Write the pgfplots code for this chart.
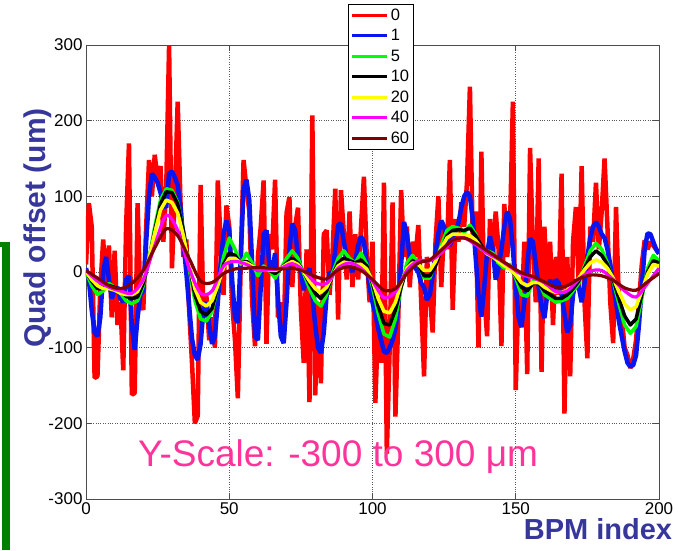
\documentclass[border=0pt]{standalone}
\usepackage{pgfplots}
\pgfplotsset{compat=1.18}
\usepackage{pgfplotstable}
\usepackage{fontspec}
\setmainfont{Liberation Sans}
\definecolor{cred}{RGB}{255,0,0}
\definecolor{cblue}{RGB}{10,20,240}
\definecolor{cgreen}{RGB}{0,255,0}
\definecolor{cyellow}{RGB}{255,255,0}
\definecolor{cmag}{RGB}{255,0,255}
\definecolor{cdark}{RGB}{128,0,0}
\definecolor{labblue}{RGB}{55,55,155}
\definecolor{pinkc}{RGB}{255,51,153}
\definecolor{barg}{RGB}{0,128,0}

\pgfplotstableread{
x r b
0 10 5
1 91 -10
2 60 -50
3 -140 -80
4 -138 -85
5 -20 -60
6 43 0
7 -20 20
8 35 -10
9 -60 -35
10 28 -25
11 -70 -20
12 -40 -35
13 -130 -40
14 60 -10
15 170 -5
16 -162 -70
17 -160 -103
18 91 -60
19 -40 -30
20 -50 -25
21 60 40
22 148 100
23 100 130
24 155 125
25 120 118
26 140 105
27 40 90
28 110 85
29 300 130
30 5 133
31 100 125
32 225 115
33 90 85
34 20 40
35 43 0
36 -50 -45
37 -120 -88
38 -200 -110
39 -190 -116
40 115 -95
41 -60 -50
42 -30 -40
43 -90 -70
44 -60 -95
45 -100 -85
46 121 -40
47 40 10
48 -30 50
49 88 68
50 60 55
51 -40 -10
52 -90 -60
53 -167 -67
54 10 20
55 148 110
56 110 122
57 80 95
58 -40 10
59 -98 -85
60 20 -90
61 60 -20
62 121 50
63 -95 55
64 50 10
65 30 0
66 122 25
67 -60 -35
68 -40 -85
69 -94 -94
70 78 -40
71 99 30
72 -20 64
73 60 55
74 85 20
75 -50 0
76 -120 -24
77 30 -5
78 -172 5
79 207 -30
80 -163 -70
81 -40 -100
82 -147 -107
83 50 -80
84 55 -30
85 -30 0
86 20 -5
87 110 30
88 -63 62
89 108 64
90 50 40
91 -10 20
92 80 10
93 -20 0
94 50 15
95 -10 35
96 60 47
97 126 40
98 20 10
99 -40 -20
100 40 -40
101 -173 -55
102 -60 -75
103 -120 -90
104 118 -105
105 -240 -107
106 -100 -100
107 92 -90
108 -191 -75
109 -60 -45
110 108 10
111 20 66
112 60 50
113 -20 20
114 40 10
115 20 5
116 62 0
117 -40 -15
118 -138 -20
119 20 -37
120 -30 -30
121 -80 -5
122 40 25
123 100 51
124 -20 68
125 60 60
126 30 40
127 148 35
128 -50 45
129 70 55
130 40 65
131 92 85
132 60 100
133 120 106
134 245 100
135 40 70
136 80 20
137 -100 -30
138 159 -59
139 -30 -20
140 -85 25
141 70 47
142 20 30
143 80 -10
144 30 5
145 -98 30
146 90 60
147 20 80
148 60 70
149 225 30
150 -156 -20
151 -20 -60
152 -60 -73
153 40 -40
154 -135 10
155 164 44
156 30 40
157 -40 10
158 150 -20
159 -132 -45
160 60 -61
161 -20 -30
162 40 -10
163 -70 -25
164 20 -10
165 -30 -15
166 130 -30
167 -187 -55
168 20 -80
169 -138 -70
170 40 -30
171 86 -10
172 -20 -20
173 140 -40
174 -40 -15
175 -114 20
176 60 45
177 40 60
178 118 66
179 30 60
180 80 50
181 150 45
182 60 30
183 -40 10
184 -94 -15
185 86 -40
186 -40 -65
187 -60 -85
188 -100 -105
189 -110 -120
190 -127 -125
191 -115 -123
192 -90 -110
193 -40 -70
194 10 -20
195 42 30
196 30 51
197 40 50
198 35 40
199 30 30
200 25 24
}\tabA

\pgfplotstableread{
x g k y
0 0 0 0
2 -18 -12 -10
4 -30 -22 -18
6 -25 -22 -22
8 -15 -18 -22
10 -20 -20 -24
12 -28 -25 -28
14 -38 -32 -30
16 -42 -35 -30
18 -38 -33 -26
20 -18 -15 -10
22 18 15 18
24 60 55 52
26 95 90 82
28 110 106 95
30 108 105 92
32 92 90 78
34 55 55 48
36 5 10 10
38 -38 -30 -22
40 -62 -52 -40
42 -65 -57 -45
44 -52 -48 -38
46 -20 -20 -18
48 20 10 6
50 45 25 18
52 30 22 18
54 10 12 12
56 25 14 12
58 12 8 8
60 -5 2 4
62 8 4 4
64 2 2 2
66 -8 -2 2
68 5 4 5
70 18 12 10
72 28 18 14
74 18 12 10
76 -2 0 0
78 -22 -15 -12
80 -38 -28 -22
82 -45 -35 -27
84 -30 -25 -20
86 -2 -5 -5
88 18 12 8
90 28 18 13
92 18 15 12
94 12 12 10
96 25 16 10
98 10 8 4
100 -20 -15 -12
102 -55 -45 -35
104 -82 -68 -52
106 -86 -70 -54
108 -62 -50 -40
110 -20 -20 -15
112 12 5 5
114 22 15 12
116 12 10 10
118 -8 -5 2
120 -8 -5 2
122 12 8 14
124 35 30 32
126 55 48 45
128 60 55 50
130 58 56 50
132 52 55 49
134 62 58 48
136 50 48 42
138 30 35 32
140 28 25 24
142 25 22 20
144 12 15 14
146 5 8 8
148 10 5 4
150 -8 -5 -4
152 -30 -20 -14
154 -32 -25 -18
156 -12 -15 -14
158 -12 -15 -14
160 -30 -25 -20
162 -35 -30 -24
164 -40 -35 -27
166 -38 -35 -27
168 -35 -30 -24
170 -25 -22 -16
172 -15 -12 -8
174 8 5 3
176 28 20 12
178 38 28 16
180 30 22 13
182 12 10 5
184 -12 -10 -8
186 -42 -35 -26
188 -70 -58 -42
190 -81 -70 -50
192 -72 -62 -46
194 -35 -30 -25
196 5 0 -3
198 22 15 10
200 15 12 8
}\tabB

\pgfplotstableread{
x m d
0 2 2
4 -12 -8
8 -20 -18
12 -25 -22
16 -28 -15
20 -10 2
24 35 32
28 75 57
32 55 48
36 5 18
40 -28 -12
44 -25 -14
48 8 -2
52 14 4
56 10 5
60 2 6
64 3 5
68 5 4
72 11 5
76 2 1
80 -14 -6
84 -15 -9
88 5 3
92 12 7
96 5 2
100 -12 -10
104 -34 -24
108 -26 -22
112 2 -2
116 15 12
120 15 16
124 25 29
128 42 42
132 45 45
136 36 38
140 25 28
144 17 18
148 7 8
152 -3 -1
156 -8 -6
160 -14 -13
164 -26 -20
168 -25 -18
172 -10 -9
176 1 -4
180 2 -5
184 -10 -11
188 -25 -21
192 -33 -24
196 -15 -13
200 5 -2
}\tabC

\begin{document}
\begin{tikzpicture}[x=1pt,y=1pt]
\path[use as bounding box] (0,0) rectangle (689,550);
\fill[barg] (2,0) rectangle (10,308);
\fill[barg] (0,303) rectangle (10,308);
\begin{axis}[
  at={(86pt,51pt)}, anchor=south west,
  scale only axis, width=573pt, height=454pt,
  xmin=0, xmax=200, ymin=-300, ymax=300,
  xtick={0,50,...,200}, ytick={-300,-200,...,300},
  /pgf/number format/assume math mode=true,
  ticklabel style={font=\fontsize{17}{20}\selectfont},
  axis line style={black!70, line width=0.8pt},
  tick style={black!70, line width=0.8pt},
  tick align=inside, major tick length=6pt,
  grid=major, major grid style={dotted, black!65, line width=0.8pt},
  legend style={at={(axis description cs:0.457,1.090)}, anchor=north west,
    draw=black, line width=0.8pt, fill=white,
    font=\fontsize{16.5}{19}\selectfont, inner sep=2.5pt, row sep=3.5pt,
    /tikz/every even column/.append style={column sep=2pt}},
  legend cell align=left,
  legend image code/.code={\draw[#1,line width=3pt] (0pt,0pt) -- (35pt,0pt);},
]
\addplot[cred, line width=4.5pt, line join=bevel] table[x=x,y=r] {\tabA};
\addplot[cblue, line width=4.5pt, line join=bevel] table[x=x,y=b] {\tabA};
\addplot[cgreen, line width=3.5pt, line join=round] table[x=x,y=g] {\tabB};
\addplot[black, line width=3.5pt, line join=round] table[x=x,y=k] {\tabB};
\addplot[cyellow, line width=3.5pt, line join=round] table[x=x,y=y] {\tabB};
\addplot[cmag, line width=3.2pt, smooth] table[x=x,y=m] {\tabC};
\addplot[cdark, line width=3.2pt, smooth] table[x=x,y=d] {\tabC};
\legend{0,1,5,10,20,40,60}
\node[text=pinkc, font=\fontsize{37}{44}\selectfont] at (axis cs:88,-244) {Y-Scale: -300 to 300 μm};
\end{axis}
\node[rotate=90, text=labblue, font=\fontsize{30}{36}\selectfont\bfseries] at (38,322) {Quad offset (um)};
\node[text=labblue, font=\fontsize{29}{34}\selectfont\bfseries] at (598,21) {BPM index};
\end{tikzpicture}
\end{document}
